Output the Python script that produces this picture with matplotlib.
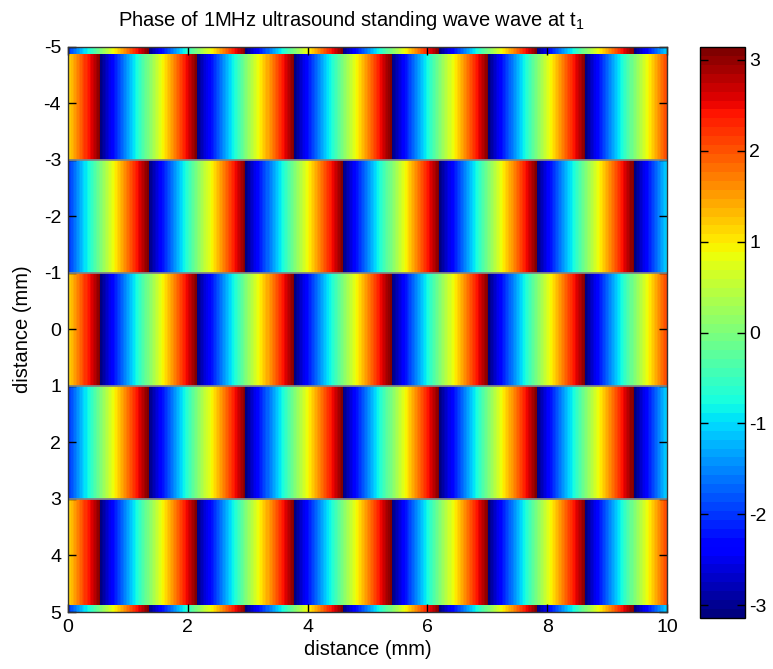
import numpy as np
import matplotlib
matplotlib.use("Agg")
import matplotlib.pyplot as plt

plt.rcParams["font.family"] = ["Liberation Sans", "DejaVu Sans"]
plt.rcParams["mathtext.fontset"] = "custom"
plt.rcParams["mathtext.rm"] = "Liberation Sans"
plt.rcParams["mathtext.it"] = "Liberation Sans"
plt.rcParams["axes.unicode_minus"] = False

# wave parameters (mm, rad)
wavelength_mm = 1.62
phase_at_origin = 1.07

# horizontal bands of the standing wave along y (mm) and the extra phase of each band
band_edges = [-5.0, -4.875, -3.0, -1.0, 1.0, 3.0, 4.875, 5.0]
band_shift = [np.pi, 0.0, np.pi, 0.0, np.pi, 0.0, np.pi]
node_lines = [-3.0, -1.0, 1.0, 3.0]

x_edges = np.linspace(0, 10, 801)
x_mid = 0.5 * (x_edges[:-1] + x_edges[1:])
k = 2 * np.pi / wavelength_mm

rows = []
for shift in band_shift:
    rows.append(np.angle(np.exp(1j * (k * x_mid + phase_at_origin + shift))))
phase = np.array(rows)

fig = plt.figure(figsize=(7.73, 6.69), dpi=100)
ax = fig.add_axes([0.088, 0.0852, 0.775, 0.8446])
cax = fig.add_axes([0.9056, 0.0762, 0.0582, 0.8535])

cmap = plt.get_cmap("jet", 64)
mesh = ax.pcolormesh(x_edges, band_edges, phase, cmap=cmap,
                     vmin=-np.pi, vmax=np.pi, shading="flat")
for yl in node_lines:
    ax.axhline(yl, color="#7f8585", lw=1.3)

ax.set_xlim(0, 10)
ax.set_ylim(5, -5)
ax.set_xticks(np.arange(0, 11, 2))
ax.set_yticks(np.arange(-5, 6, 1))
ax.tick_params(direction="in", length=6, width=1, top=True, right=True,
               labelsize=14, colors="black", pad=5)
for s in ax.spines.values():
    s.set_linewidth(1)
    s.set_color("#333333")

ax.set_xlabel("distance (mm)", fontsize=14.5, labelpad=3)
ax.set_ylabel("distance (mm)", fontsize=14.5, labelpad=8)
fig.text(351 / 773, 1 - 20 / 669, "Phase of 1MHz ultrasound standing wave wave at t$_1$",
         ha="center", va="center", fontsize=14.5)

cb = fig.colorbar(mesh, cax=cax)
cb.set_ticks(np.arange(-3, 4, 1))
cb.ax.tick_params(direction="in", length=6, width=1, left=True, right=True,
                  labelsize=14, pad=3)
cb.outline.set_linewidth(1)

fig.savefig("out.png", dpi=100)
